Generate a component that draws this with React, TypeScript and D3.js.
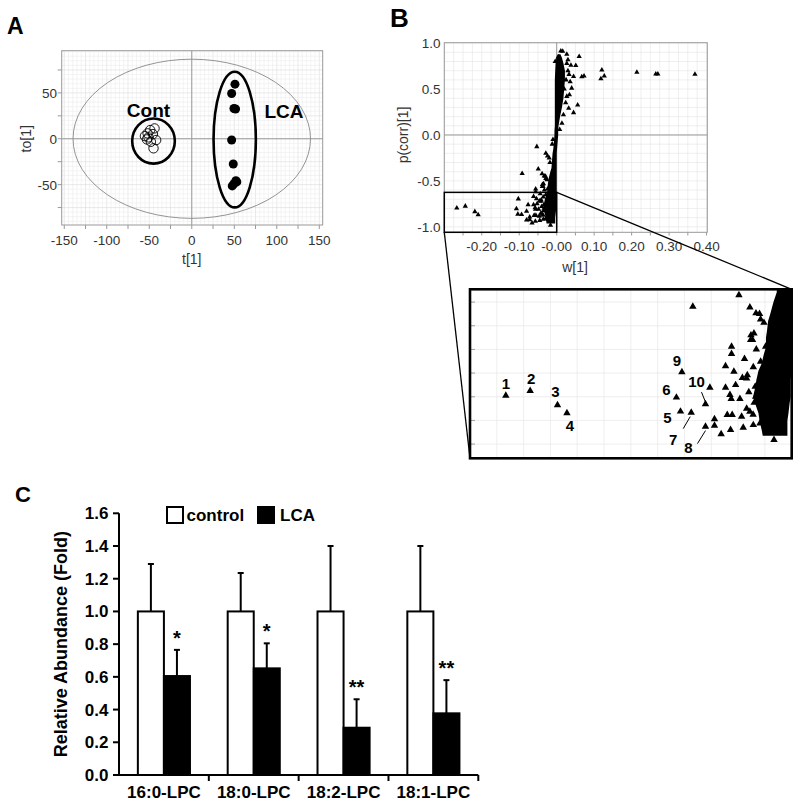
import React from 'react';
import * as d3 from 'd3';

const FONT = '"Liberation Sans", Arial, Helvetica, sans-serif';
const AXIS_TEXT = '#333';

// ---------- Panel A : OPLS-DA scores ----------
const contScores: [number, number][] = [
  [-48.9, 9.5], [-43.8, 11.3], [-52, 5.9], [-55.1, 2.9], [-50.9, 1.5],
  [-45.7, 5.1], [-41.9, -1.4], [-48.1, -3.3], [-45, -10.4], [-52.8, -0.7],
];
const lcaScores: [number, number][] = [
  [50.8, 59.5], [46.9, 49.3], [49.6, 33], [51.5, 32.5], [46.9, -1.4],
  [48.8, -27.5], [51.9, -45.7], [47.6, -51.4], [49.6, -49], [53, -47],
];
// group ellipses: cx, cy, rx, ry (score units)
const groupEllipses = [
  { name: 'Cont', cx: -45, cy: -2.5, rx: 25, ry: 24.5 },
  { name: 'LCA', cx: 50.5, cy: -0.9, rx: 24.8, ry: 73.7 },
];
const hotelling = { rx: 139.2, ry: 86.5 };
const aTicks = [-150, -100, -50, 0, 50, 100, 150];
const aYTicks = [-50, 0, 50];

// ---------- Panel B : S-plot loadings ----------
// dense core of the S-plot (w range per p(corr) row)
const bandP = [-0.965, -0.94, -0.9, -0.87, -0.83, -0.8, -0.76, -0.73, -0.69, -0.66, -0.62, -0.59, -0.55, -0.52, -0.48, -0.45, -0.4, -0.36, -0.3, -0.25, -0.2, -0.15, -0.1, -0.05, 0, 0.05, 0.1, 0.2, 0.3, 0.4, 0.5, 0.6, 0.7, 0.78, 0.84, 0.88];
const bandLeft = [-0.027, -0.028, -0.03, -0.031, -0.034, -0.036, -0.034, -0.033, -0.031, -0.028, -0.026, -0.024, -0.024, -0.023, -0.022, -0.02, -0.017, -0.014, -0.013, -0.012, -0.011, -0.009, -0.008, -0.007, -0.006, -0.006, -0.005, -0.005, -0.005, -0.005, -0.005, -0.005, -0.004, -0.003, -0.001, 0.003];
const bandRight = [-0.004, -0.004, -0.004, -0.003, -0.002, -0.001, -0.001, -0.001, 0, 0, 0, 0, 0, 0, 0, 0, 0, 0, 0, 0, 0, 0.001, 0.002, 0.003, 0.004, 0.004, 0.005, 0.009, 0.014, 0.018, 0.02, 0.022, 0.022, 0.018, 0.014, 0.01];

const loadings: [number, number][] = [
  [0.011, 0.915], [0.016, 0.912], [0.027, 0.879], [0.06, 0.855], [0.027, 0.78],
  [0.051, 0.757], [0.045, 0.636], [0.067, 0.634], [0.073, 0.643], [0.036, 0.58],
  [0.04, 0.51], [0.027, 0.42], [0.034, 0.437], [0.056, 0.327], [0.032, 0.291],
  [0.045, 0.243], [0.014, 0.127], [0.1205, 0.708], [0.118, 0.613], [0.127, 0.643],
  [0.214, 0.683], [0.2645, 0.664], [0.27, 0.664], [0.369, 0.661], [0.03, 0.7],
  [0.025, 0.6], [0.038, 0.76], [0.02, 0.5], [0.024, 0.35], [0.018, 0.22],
  [0.008, 0.06], [0.004, 0.85], [-0.004, 0.8], [0.03, 0.82], [0.033, 0.66],
  [-0.053, -0.127], [-0.029, -0.2], [-0.0245, -0.229], [-0.018, -0.3], [-0.012, -0.1],
  [-0.02, -0.25], [-0.01, -0.05],
  [-0.0492, -0.37], [-0.0922, -0.419], [-0.039, -0.422], [-0.0333, -0.447], [-0.029, -0.473],
  [-0.0259, -0.487], [-0.0352, -0.532], [-0.0383, -0.56], [-0.0365, -0.56], [-0.0561, -0.588],
  [-0.0561, -0.619], [-0.0243, -0.588], [-0.0617, -0.67], [-0.0539, -0.694], [-0.029, -0.651],
  [-0.0358, -0.675], [-0.0414, -0.708], [-0.0763, -0.761], [-0.0617, -0.761], [-0.0523, -0.75],
  [-0.0576, -0.792], [-0.0564, -0.809], [-0.0483, -0.809], [-0.0336, -0.799], [-0.035, -0.825],
  [-0.0601, -0.876], [-0.0555, -0.876], [-0.0467, -0.884], [-0.072, -0.894], [-0.072, -0.922],
  [-0.0658, -0.958], [-0.057, -0.94], [-0.0452, -0.93], [-0.0358, -0.919], [-0.0165, -0.982],
  [-0.042, -0.85], [-0.04, -0.78], [-0.044, -0.64], [-0.033, -0.6], [-0.046, -0.72],
  [-0.042, -0.722], [-0.034, -0.757], [-0.039, -0.863], [-0.036, -0.875], [-0.0296, -0.912],
  [-0.038, -0.54], [-0.03, -0.45],
];
const labeledW = [-0.2666, -0.2439, -0.2184, -0.2096, -0.1037, -0.1075, -0.0937, -0.0804, -0.1024, -0.0804];
const labeledP = [-0.795, -0.775, -0.835, -0.869, -0.862, -0.803, -0.867, -0.926, -0.696, -0.831];
const pointLabels = ['1', '2', '3', '4', '5', '6', '7', '8', '9', '10'];
const bXTicks = [-0.2, -0.1, 0, 0.1, 0.2, 0.3, 0.4];
const bXTickLabels = ['-0.20', '-0.10', '-0.00', '0.10', '0.20', '0.30', '0.40'];
const bYTicks = [-1, -0.5, 0, 0.5, 1];
const bYTickLabels = ['-1.0', '-0.5', '0.0', '0.5', '1.0'];

// ---------- Panel C : LPC abundance ----------
const lipids = ['16:0-LPC', '18:0-LPC', '18:2-LPC', '18:1-LPC'];
const groups = ['control', 'LCA'];
const controlMean = [1, 1, 1, 1];
const controlSE = [0.29, 0.235, 0.4, 0.4];
const lcaMean = [0.605, 0.652, 0.289, 0.377];
const lcaSE = [0.16, 0.153, 0.174, 0.203];
const signif = ['*', '*', '**', '**'];
const cTicks = [0, 0.2, 0.4, 0.6, 0.8, 1.0, 1.2, 1.4, 1.6];

// label placement in the inset (px offsets from the point)
const labelOffset: Record<string, { dx: number; dy: number; lead?: [number, number, number, number] }> = {
  '1': { dx: 0, dy: -7 }, '2': { dx: 1, dy: -7 }, '3': { dx: -2, dy: -8 }, '4': { dx: 3, dy: 18 },
  '5': { dx: -13, dy: 12 }, '6': { dx: -10, dy: -2 }, '7': { dx: -18, dy: 32, lead: [-8, 16, -1, 4] },
  '8': { dx: -17, dy: 26, lead: [-8, 17, 0, 4] }, '9': { dx: -5, dy: -6 },
  '10': { dx: -9, dy: -17, lead: [-4, -12, 0, -2] },
};

const PanelA: React.FC = () => {
  const x = d3.scaleLinear().domain([-153, 154]).range([61.7, 322.7]);
  const y = d3.scaleLinear().domain([-94, 96]).range([225, 50.7]);
  const gx = d3.range(-150, 155, 5);
  const gy = d3.range(-90, 96, 5);
  const kx = 0.853, ky = 0.92;
  return (
    <g fontFamily={FONT}>
      <text x={7} y={34} fontSize={23} fontWeight="bold">A</text>
      <rect x={x(-153)} y={y(96)} width={x(154) - x(-153)} height={y(-94) - y(96)} fill="#fff" />
      {gx.map(v => <line key={'gx' + v} x1={x(v)} x2={x(v)} y1={y(96)} y2={y(-94)} stroke={v % 25 === 0 ? '#dcdcdc' : '#ececec'} strokeWidth={0.6} />)}
      {gy.map(v => <line key={'gy' + v} y1={y(v)} y2={y(v)} x1={x(-153)} x2={x(154)} stroke={v % 25 === 0 ? '#dcdcdc' : '#ececec'} strokeWidth={0.6} />)}
      <line x1={x(0)} x2={x(0)} y1={y(96)} y2={y(-94)} stroke="#999" strokeWidth={1} />
      <line y1={y(0)} y2={y(0)} x1={x(-153)} x2={x(154)} stroke="#999" strokeWidth={1} />
      <rect x={x(-153)} y={y(96)} width={x(154) - x(-153)} height={y(-94) - y(96)} fill="none" stroke="#999" strokeWidth={1} />
      <ellipse cx={x(0)} cy={y(0)} rx={hotelling.rx * kx} ry={hotelling.ry * ky} fill="none" stroke="#888" strokeWidth={0.9} />
      {groupEllipses.map(e => (
        <ellipse key={e.name} cx={x(e.cx)} cy={y(e.cy)} rx={e.rx * kx} ry={e.ry * ky} fill="none" stroke="#000" strokeWidth={2.6} />
      ))}
      {contScores.map((d, i) => <circle key={'c' + i} cx={x(d[0])} cy={y(d[1])} r={4.7} fill="none" stroke="#000" strokeWidth={0.9} />)}
      {lcaScores.map((d, i) => <circle key={'l' + i} cx={x(d[0])} cy={y(d[1])} r={4.5} fill="#000" />)}
      <text x={148.5} y={116.5} fontSize={19} fontWeight="bold" textAnchor="middle">Cont</text>
      <text x={284} y={118} fontSize={19} fontWeight="bold" textAnchor="middle">LCA</text>
      {d3.range(-150, 151, 25).map(v => <line key={'tx' + v} x1={x(v)} x2={x(v)} y1={225} y2={229} stroke="#999" />)}
      {d3.range(-75, 96, 25).map(v => <line key={'ty' + v} y1={y(v)} y2={y(v)} x1={61.7} x2={57.7} stroke="#999" />)}
      {aTicks.map(v => <text key={'lx' + v} x={x(v)} y={245} fontSize={13.5} fill={AXIS_TEXT} textAnchor="middle">{v}</text>)}
      {aYTicks.map(v => <text key={'ly' + v} x={57} y={y(v) + 5} fontSize={13.5} fill={AXIS_TEXT} textAnchor="end">{v}</text>)}
      <text x={x(0)} y={264} fontSize={14} fill={AXIS_TEXT} textAnchor="middle">t[1]</text>
      <text transform={`translate(30.5,${y(0)}) rotate(-90)`} fontSize={14} fill={AXIS_TEXT} textAnchor="middle">to[1]</text>
    </g>
  );
};

const PanelB: React.FC = () => {
  const x = d3.scaleLinear().domain([-0.3, 0.402]).range([444.3, 707.3]);
  const y = d3.scaleLinear().domain([-1.06, 1.005]).range([232.3, 42.7]);
  const xi = d3.scaleLinear().domain([-0.3, 0.0]).range([470, 791.7]);
  const yi = d3.scaleLinear().domain([-1.06, -0.346]).range([458.3, 289.3]);
  const band = bandP.map((p, i) => ({ p, l: bandLeft[i], r: bandRight[i] }));
  const areaMain = d3.area<any>().y(d => y(d.p)).x0(d => x(d.l)).x1(d => x(d.r));
  const areaInset = d3.area<any>().y(d => yi(d.p)).x0(d => xi(d.l)).x1(d => xi(d.r));
  const triSmall = d3.symbol().type(d3.symbolTriangle).size(12)() as string;
  const triBig = d3.symbol().type(d3.symbolTriangle).size(24)() as string;
  const labeled = labeledW.map((w, i) => ({ w, p: labeledP[i], label: pointLabels[i] }));
  const gxm = d3.range(-12, 17).map(i => i * 0.025);
  const gym = d3.range(-10, 11).map(i => i / 10);
  const gxi = d3.range(-11, 0).map(i => i * 0.025);
  const gyi = d3.range(-10, -3).map(i => i / 10);
  const box = { w0: -0.3, w1: 0.0, p0: -1.06, p1: -0.625 };
  const all = loadings.concat(labeled.map(d => [d.w, d.p] as [number, number]));
  return (
    <g fontFamily={FONT}>
      <defs>
        <clipPath id="clipB"><rect x={444.3} y={42.7} width={263} height={189.6} /></clipPath>
        <clipPath id="clipI"><rect x={470} y={289.3} width={321.7} height={169} /></clipPath>
      </defs>
      <text x={390} y={26.5} fontSize={26} fontWeight="bold">B</text>
      {gxm.map(v => <line key={'gx' + v} x1={x(v)} x2={x(v)} y1={42.7} y2={232.3} stroke="#e4e4e4" strokeWidth={0.6} />)}
      {gym.map(v => <line key={'gy' + v} y1={y(v)} y2={y(v)} x1={444.3} x2={707.3} stroke="#e4e4e4" strokeWidth={0.6} />)}
      <line x1={x(0)} x2={x(0)} y1={42.7} y2={232.3} stroke="#999" />
      <line y1={y(0)} y2={y(0)} x1={444.3} x2={707.3} stroke="#999" />
      <rect x={444.3} y={42.7} width={263} height={189.6} fill="none" stroke="#999" />
      <g clipPath="url(#clipB)">
        <path d={areaMain(band) || ''} fill="#000" />
        {all.map((d, i) => <path key={'m' + i} d={triSmall} transform={`translate(${x(d[0])},${y(d[1])})`} fill="#000" />)}
      </g>
      {d3.range(-6, 9).map(i => i * 0.05).map(v => <line key={'tx' + v} x1={x(v)} x2={x(v)} y1={232.3} y2={235.5} stroke="#999" />)}
      {bXTicks.map((v, i) => <text key={'lx' + i} x={x(v)} y={251} fontSize={13.5} fill={AXIS_TEXT} textAnchor="middle">{bXTickLabels[i]}</text>)}
      {bYTicks.map((v, i) => <text key={'ly' + i} x={440.5} y={y(v) + 5} fontSize={13.5} fill={AXIS_TEXT} textAnchor="end">{bYTickLabels[i]}</text>)}
      <text x={575} y={272} fontSize={14} fill={AXIS_TEXT} textAnchor="middle">w[1]</text>
      <text transform={`translate(408,${y(0)}) rotate(-90)`} fontSize={14} fill={AXIS_TEXT} textAnchor="middle">p(corr)[1]</text>
      {/* zoom box and connectors */}
      <rect x={x(box.w0)} y={y(box.p1)} width={x(box.w1) - x(box.w0)} height={y(box.p0) - y(box.p1)} fill="none" stroke="#000" strokeWidth={1.5} />
      <line x1={x(box.w0)} y1={y(box.p0)} x2={xi(-0.3)} y2={yi(-1.06)} stroke="#000" strokeWidth={1.3} />
      <line x1={x(box.w1)} y1={y(box.p1)} x2={xi(0)} y2={yi(-0.346)} stroke="#000" strokeWidth={1.3} />
      {/* inset */}
      <rect x={470} y={289.3} width={321.7} height={169} fill="#fff" />
      {gxi.map(v => <line key={'gix' + v} x1={xi(v)} x2={xi(v)} y1={289.3} y2={458.3} stroke="#e6e6e6" strokeWidth={0.7} />)}
      {gyi.map(v => <line key={'giy' + v} y1={yi(v)} y2={yi(v)} x1={470} x2={791.7} stroke="#e6e6e6" strokeWidth={0.7} />)}
      {gyi.map(v => <line key={'tiy' + v} y1={yi(v)} y2={yi(v)} x1={471} x2={475} stroke="#888" strokeWidth={0.8} />)}
      <g clipPath="url(#clipI)">
        <path d={areaInset(band) || ''} fill="#000" />
        {all.map((d, i) => <path key={'i' + i} d={triBig} transform={`translate(${xi(d[0])},${yi(d[1])})`} fill="#000" />)}
      </g>
      {labeled.map(d => {
        const o = labelOffset[d.label];
        const px = xi(d.w), py = yi(d.p);
        return (
          <g key={'lab' + d.label}>
            {o.lead && <line x1={px + o.lead[0]} y1={py + o.lead[1]} x2={px + o.lead[2]} y2={py + o.lead[3]} stroke="#000" strokeWidth={1} />}
            <text x={px + o.dx} y={py + o.dy} fontSize={15} fontWeight="bold" textAnchor="middle">{d.label}</text>
          </g>
        );
      })}
      <rect x={470} y={289.3} width={321.7} height={169} fill="none" stroke="#000" strokeWidth={2.6} />
    </g>
  );
};

const PanelC: React.FC = () => {
  const x = d3.scaleBand<string>().domain(lipids).range([119, 478.3]).paddingInner(0.42).paddingOuter(0.21);
  const sub = d3.scaleBand<string>().domain(groups).range([0, x.bandwidth()]);
  const y = d3.scaleLinear().domain([0, 1.6]).range([775, 513.3]);
  const series = [
    { key: 'control', mean: controlMean, se: controlSE, fill: '#fff' },
    { key: 'LCA', mean: lcaMean, se: lcaSE, fill: '#000' },
  ];
  const bounds = lipids.map(l => (x(l) as number) + x.bandwidth() + x.step() * 0.21);
  return (
    <g fontFamily={FONT} fontWeight="bold">
      <text x={15} y={502} fontSize={22}>C</text>
      {series.map(s => lipids.map((l, i) => {
        const bx = (x(l) as number) + (sub(s.key) as number);
        const cx = bx + sub.bandwidth() / 2;
        return (
          <g key={s.key + l}>
            <line x1={cx} x2={cx} y1={y(s.mean[i])} y2={y(s.mean[i] + s.se[i])} stroke="#000" strokeWidth={2} />
            <line x1={cx - 3} x2={cx + 3} y1={y(s.mean[i] + s.se[i])} y2={y(s.mean[i] + s.se[i])} stroke="#000" strokeWidth={2} />
            <rect x={bx} y={y(s.mean[i])} width={sub.bandwidth()} height={y(0) - y(s.mean[i])} fill={s.fill} stroke="#000" strokeWidth={2} />
          </g>
        );
      }))}
      {lipids.map((l, i) => {
        const cx = (x(l) as number) + (sub('LCA') as number) + sub.bandwidth() / 2;
        return <text key={'s' + l} x={cx} y={y(lcaMean[i] + lcaSE[i]) - 5} fontSize={20} textAnchor="middle">{signif[i]}</text>;
      })}
      <line x1={119} x2={119} y1={y(1.6)} y2={y(0) + 1} stroke="#000" strokeWidth={2} />
      <line x1={118} x2={478.3} y1={y(0)} y2={y(0)} stroke="#000" strokeWidth={2} />
      {cTicks.map(v => (
        <g key={'t' + v}>
          <line x1={113} x2={119} y1={y(v)} y2={y(v)} stroke="#000" strokeWidth={2} />
          <text x={108.5} y={y(v) + 6} fontSize={17} textAnchor="end">{v.toFixed(1)}</text>
        </g>
      ))}
      {bounds.map((b, i) => <line key={'b' + i} x1={b} x2={b} y1={y(0)} y2={y(0) + 6} stroke="#000" strokeWidth={2} />)}
      {lipids.map(l => (
        <text key={'x' + l} x={(x(l) as number) + x.bandwidth() / 2} y={798} fontSize={17} textAnchor="middle">{l}</text>
      ))}
      <text transform={`translate(67,${(y(0) + y(1.6)) / 2}) rotate(-90)`} fontSize={18} textAnchor="middle">Relative Abundance (Fold)</text>
      {/* legend */}
      <rect x={167} y={507} width={16} height={16} fill="#fff" stroke="#000" strokeWidth={2} />
      <text x={186.5} y={521} fontSize={17}>control</text>
      <rect x={258} y={507} width={16} height={16} fill="#000" stroke="#000" strokeWidth={2} />
      <text x={280} y={521} fontSize={17}>LCA</text>
    </g>
  );
};

const App: React.FC = () => (
  <div style={{ position: 'absolute', left: 0, top: 0 }}>
    <svg width={800} height={806} viewBox="0 0 800 806" style={{ display: 'block', background: '#fff' }}>
      <PanelA />
      <PanelB />
      <PanelC />
    </svg>
  </div>
);

export default App;
